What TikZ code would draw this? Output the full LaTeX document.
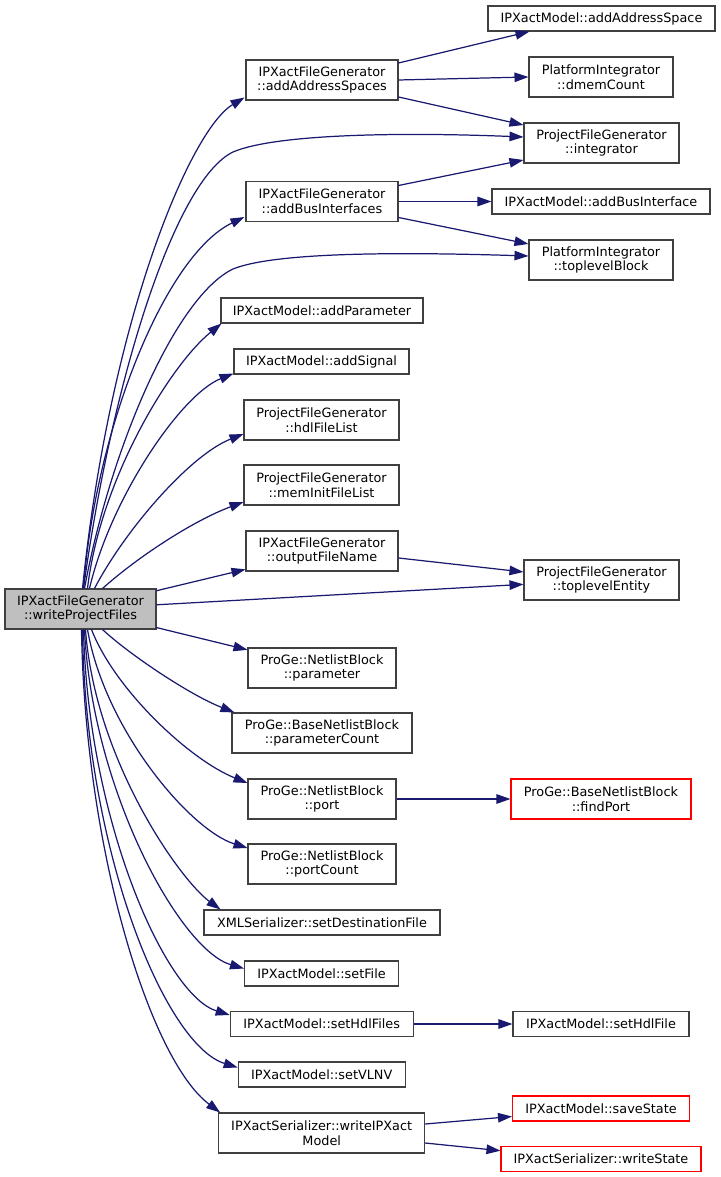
\documentclass[tikz,border=0pt]{standalone}
\usepackage{fontspec}
\setmainfont{DejaVu Sans}
\usetikzlibrary{arrows.meta,calc}
\definecolor{edgeblue}{HTML}{191970}
\definecolor{boxgray}{HTML}{404040}
\definecolor{rootfill}{HTML}{BFBFBF}
\begin{document}
\begin{tikzpicture}[x=0.2mm,y=-0.2mm,
  every node/.style={font=\fontsize{7.3}{8.4}\selectfont},
  fn/.style={draw=boxgray,line width=0.6pt,align=center,inner sep=0pt,minimum height=8mm},
  fn1/.style={fn,minimum height=5mm},
  undoc/.style={draw=red},
  call/.style={draw=edgeblue,line width=0.7pt,-{Triangle[length=2.8mm,width=1.9mm]}}]
\useasboundingbox (0,0) rectangle (720,1177);
\node[fn,fill=rootfill,minimum width=30.2mm] (root) at (80.5,609) {IPXactFileGenerator\\::writeProjectFiles};
\node[fn,minimum width=30.4mm] (aas) at (322,80) {IPXactFileGenerator\\::addAddressSpaces};
\node[fn1,minimum width=45.4mm] (aasp) at (601.5,18.5) {IPXactModel::addAddressSpace};
\node[fn,minimum width=28.8mm] (dmem) at (601,77) {PlatformIntegrator\\::dmemCount};
\node[fn,minimum width=31mm] (integ) at (601.5,143) {ProjectFileGenerator\\::integrator};
\node[fn,minimum width=30.4mm] (abi) at (322,201.5) {IPXactFileGenerator\\::addBusInterfaces};
\node[fn1,minimum width=43.6mm] (abif) at (601,201.5) {IPXactModel::addBusInterface};
\node[fn,minimum width=28.8mm] (tlb) at (601,260) {PlatformIntegrator\\::toplevelBlock};
\node[fn1,minimum width=40.4mm] (apar) at (322,310.5) {IPXactModel::addParameter};
\node[fn1,minimum width=35mm] (asig) at (321.5,361.5) {IPXactModel::addSignal};
\node[fn,minimum width=31mm] (hdl) at (321.5,420) {ProjectFileGenerator\\::hdlFileList};
\node[fn,minimum width=31mm] (mem) at (321.5,485) {ProjectFileGenerator\\::memInitFileList};
\node[fn,minimum width=30.4mm] (ofn) at (322,551) {IPXactFileGenerator\\::outputFileName};
\node[fn,minimum width=31mm] (tle) at (601.5,580) {ProjectFileGenerator\\::toplevelEntity};
\node[fn,minimum width=29.6mm] (par) at (322,668) {ProGe::NetlistBlock\\::parameter};
\node[fn,minimum width=36mm] (parc) at (322,733) {ProGe::BaseNetlistBlock\\::parameterCount};
\node[fn,minimum width=29.6mm] (port) at (322,799) {ProGe::NetlistBlock\\::port};
\node[fn,undoc,minimum width=36mm] (fport) at (601,799) {ProGe::BaseNetlistBlock\\::findPort};
\node[fn,minimum width=29.6mm] (pcnt) at (322,864) {ProGe::NetlistBlock\\::portCount};
\node[fn1,minimum width=47.2mm] (sdf) at (322,922.5) {XMLSerializer::setDestinationFile};
\node[fn1,minimum width=30.8mm] (sfile) at (321.5,973.5) {IPXactModel::setFile};
\node[fn1,minimum width=36.6mm] (shdls) at (321.7,1024) {IPXactModel::setHdlFiles};
\node[fn1,minimum width=35.2mm] (shdl) at (601,1024) {IPXactModel::setHdlFile};
\node[fn1,minimum width=33.4mm] (svlnv) at (321.7,1074.5) {IPXactModel::setVLNV};
\node[fn,minimum width=41.2mm] (wipx) at (321.7,1133) {IPXactSerializer::writeIPXact\\Model};
\node[fn1,undoc,minimum width=35.4mm] (save) at (601,1108.5) {IPXactModel::saveState};
\node[fn1,undoc,minimum width=40mm] (wstate) at (601,1158.7) {IPXactSerializer::writeState};
\draw[call] ($(root.north)+(2,0)$) .. controls (110,320) and (190,130) .. ($(aas.south west)+(-1,-3)$);
\draw[call] ($(root.north)+(3,0)$) .. controls (112,380) and (175,180) .. (233,152) .. controls (275,134) and (400,132) .. ($(integ.west)+(0,-6)$);
\draw[call] ($(root.north)+(3,0)$) .. controls (95,430) and (165,255) .. ($(abi.south west)+(-1,-5)$);
\draw[call] ($(root.north)+(4,0)$) .. controls (110,450) and (175,297) .. (233,269) .. controls (275,252) and (400,252) .. ($(tlb.west)+(0,-4)$);
\draw[call] ($(root.north)+(7,0)$) .. controls (100,480) and (170,365) .. ($(apar.south west)+(1,0)$);
\draw[call] ($(root.north)+(9,0)$) .. controls (110,500) and (180,395) .. ($(asig.south west)+(0,-1)$);
\draw[call] ($(root.north)+(14,0)$) .. controls (125,530) and (190,455) .. ($(hdl.west)+(0,14)$);
\draw[call] ($(root.north)+(22,0)$) .. controls (140,555) and (195,520) .. ($(mem.west)+(0,17)$);
\draw[call] (root) -- (ofn);
\draw[call] (root) -- (tle);
\draw[call] (root) -- (par);
\draw[call] ($(root.south)+(22,0)$) .. controls (130,655) and (190,695) .. ($(parc.north west)+(3,0)$);
\draw[call] ($(root.south)+(11,0)$) .. controls (115,690) and (190,760) .. ($(port.west)+(0,-16)$);
\draw[call] ($(root.south)+(7,0)$) .. controls (105,730) and (190,830) .. ($(pcnt.west)+(0,-16)$);
\draw[call] ($(root.south)+(5,0)$) .. controls (95,760) and (180,880) .. ($(sdf.north west)+(17,0)$);
\draw[call] ($(root.south)+(4,0)$) .. controls (92,790) and (180,950) .. ($(sfile.west)+(0,-5)$);
\draw[call] ($(root.south)+(3,0)$) .. controls (88,820) and (165,995) .. ($(shdls.west)+(0,-9)$);
\draw[call] ($(root.south)+(2,0)$) .. controls (85,850) and (165,1045) .. ($(svlnv.west)+(0,-7)$);
\draw[call] ($(root.south)+(1,0)$) .. controls (85,850) and (150,1060) .. ($(wipx.north west)+(2,0)$);
\draw[call] ($(aas.east)+(0,-17)$) -- ($(aasp.south west)+(42,0)$);
\draw[call] (aas.east) -- (dmem.west);
\draw[call] ($(aas.east)+(0,17)$) -- ($(integ.west)+(0,-18)$);
\draw[call] ($(abi.east)+(0,-16)$) -- ($(integ.west)+(0,17)$);
\draw[call] (abi) -- (abif);
\draw[call] ($(abi.east)+(0,16)$) -- ($(tlb.west)+(0,-16)$);
\draw[call] ($(ofn.east)+(0,7)$) -- ($(tle.west)+(0,-8)$);
\draw[call] (port) -- (fport);
\draw[call] (shdls) -- (shdl);
\draw[call] ($(wipx.east)+(0,-9)$) -- ($(save.west)+(0,8)$);
\draw[call] ($(wipx.east)+(0,10)$) -- ($(wstate.west)+(0,-8)$);
\end{tikzpicture}
\end{document}
